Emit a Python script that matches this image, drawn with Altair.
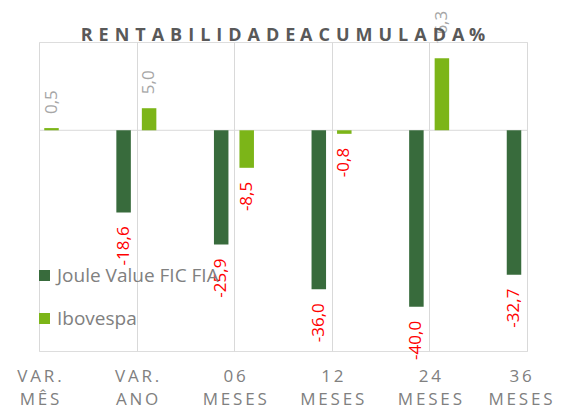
import altair as alt
import pandas as pd

categories = ["VAR. MÊS", "VAR. ANO", "06 MESES", "12 MESES", "24 MESES", "36 MESES"]
series_names = ["Joule Value FIC FIA", "Ibovespa"]
joule = [None, -18.6, -25.9, -36.0, -40.0, -32.7]
ibov = [0.5, 5.0, -8.5, -0.8, 16.3, None]
title_text = "RENTABILIDADE ACUMULADA %"

DARK = "#386B3C"
LIGHT = "#7CB518"
THIN = "\u2009"      # tracking for axis labels
WIDE = "\u2004"      # tracking for the title


def spaced(s, sep=THIN):
    return sep.join(s)


rows = []
for cat, j, i in zip(categories, joule, ibov):
    if j is not None:
        rows.append({"cat": cat, "series": series_names[0], "value": j})
    if i is not None:
        rows.append({"cat": cat, "series": series_names[1], "value": i})
df = pd.DataFrame(rows)

label_map = ", ".join(
    "'%s': [%s]" % (c, ", ".join("'%s'" % spaced(w) for w in c.split(" ")))
    for c in categories
)
label_expr = "{%s}[datum.value]" % label_map

title_spaced = " ".join(spaced(w, WIDE) for w in title_text.split(" "))

x_enc = alt.X(
    "cat:N",
    sort=categories,
    scale=alt.Scale(type="point", padding=0, domain=categories),
    axis=alt.Axis(
        title=None,
        domain=False,
        ticks=False,
        grid=True,
        gridColor="#d9d9d9",
        gridWidth=1,
        labelAngle=0,
        labelFont="Open Sans",
        labelFontSize=17,
        labelColor="#808080",
        labelLineHeight=23,
        labelPadding=17,
        labelExpr=label_expr,
        labelOverlap=False,
        labelBound=False,
        labelOffset={"condition": {"test": "datum.value == '36 MESES'", "value": -7}, "value": 0},
    ),
)
yscale = alt.Scale(domain=[-50, 20], nice=False, zero=False)
y_enc = alt.Y("value:Q", scale=yscale, axis=None)
color_enc = alt.Color(
    "series:N",
    scale=alt.Scale(domain=series_names, range=[DARK, LIGHT]),
    legend=alt.Legend(
        title=None,
        orient="none",
        legendX=-4,
        legendY=224,
        symbolType="square",
        symbolSize=121,
        symbolStrokeWidth=0,
        labelFont="Open Sans",
        labelFontSize=19,
        labelColor="#808080",
        labelLimit=400,
        rowPadding=23,
        labelOffset=3,
        padding=0,
    ),
)

base = alt.Chart(df)

zero = alt.Chart(pd.DataFrame({"z": [0]})).mark_rule(color="#d9d9d9", strokeWidth=1).encode(
    y=alt.Y("z:Q", scale=yscale, axis=None)
)

offsets = {series_names[0]: -13, series_names[1]: 12.5}

layers = [zero]
for s in series_names:
    layers.append(
        base.transform_filter(alt.datum.series == s)
        .mark_bar(width=14.5, xOffset=offsets[s])
        .encode(x=x_enc, y=y_enc, color=color_enc)
    )

label_calc = "(datum.value < 0 ? '-' : '') + replace(format(abs(datum.value), '.1f'), '.', ',')"
for s in series_names:
    lab = base.transform_filter(alt.datum.series == s).transform_calculate(label=label_calc)
    layers.append(
        lab.transform_filter(alt.datum.value >= 0)
        .mark_text(angle=270, align="left", baseline="middle", dx=14,
                   xOffset=offsets[s], font="Open Sans", fontSize=17, color="#a6a6a6")
        .encode(x=x_enc, y=y_enc, text="label:N")
    )
    layers.append(
        lab.transform_filter(alt.datum.value < 0)
        .mark_text(angle=270, align="right", baseline="middle", dx=-14,
                   xOffset=offsets[s], font="Open Sans", fontSize=17, color="#ff0000")
        .encode(x=x_enc, y=y_enc, text="label:N")
    )

# title box (white fill, as in the original) and title text
title_df = pd.DataFrame({"t": [title_spaced]})
title_box = alt.Chart(title_df).mark_rect(color="white").encode(
    x=alt.value(43), x2=alt.value(446), y=alt.value(-9), y2=alt.value(-0.5)
)
title_mark = alt.Chart(title_df).mark_text(
    font="Open Sans", fontSize=18, fontWeight="bold", color="#595959",
    align="center", baseline="alphabetic",
).encode(x=alt.value(244), y=alt.value(-1), text="t:N")
layers += [title_box, title_mark]

chart = (
    alt.layer(*layers)
    .properties(
        width=488,
        height=309,
        autosize=alt.AutoSizeParams(type="none"),
        padding={"left": 31, "top": 34, "right": 26, "bottom": 58},
    )
    .configure_view(stroke=None)
    .configure(background="white")
)

chart.save("out.html", embed_options={"renderer": "svg", "actions": False})
